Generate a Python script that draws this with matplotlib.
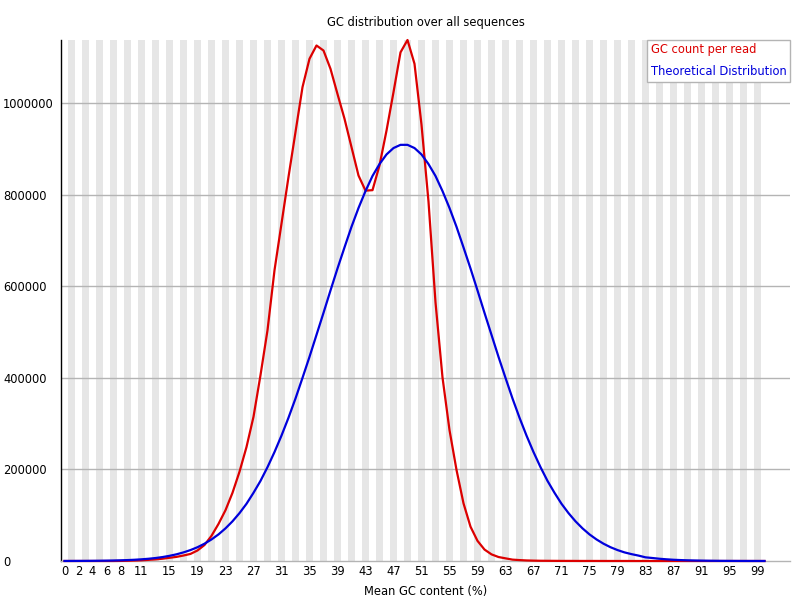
import matplotlib
matplotlib.use('Agg')
import matplotlib.pyplot as plt

# ── Data ──────────────────────────────────────────────────────────────────────
gc_percent = list(range(101))

gc_count = [
    0, 0, 0, 0, 0, 0, 0, 0, 200, 500,
    1000, 1500, 2500, 3500, 5000, 7000, 9000, 12000, 15500, 23000,
    35000, 55000, 81000, 111000, 149000, 195000, 249000, 315000, 406000, 504000,
    635000, 737000, 839000, 937000, 1035000, 1097000, 1126000, 1115000, 1075000, 1020000,
    966000, 904000, 842000, 809000, 810000, 864000, 940000, 1024000, 1111000, 1138000,
    1086000, 953000, 785000, 565000, 401000, 286000, 199000, 126000, 75000, 44000,
    25000, 14500, 8700, 5800, 3000, 2000, 1200, 800, 500, 400,
    300, 200, 200, 150, 100, 100, 100, 50, 50, 50,
    50, 0, 0, 0, 0, 0, 0, 0, 0, 0,
    0, 0, 0, 0, 0, 0, 0, 0, 0, 0,
    0,
]

theoretical = [
    90, 130, 190, 270, 390, 550, 770, 1070, 1480, 2000,
    2700, 3700, 4900, 6500, 8600, 11300, 14600, 18800, 23900, 30100,
    37800, 47100, 58100, 71300, 86700, 104600, 125000, 149000, 175000, 205000,
    238000, 274000, 313000, 355000, 400000, 446000, 494000, 542000, 591000, 639000,
    685000, 730000, 771000, 808000, 841000, 867000, 888000, 902000, 909000, 909000,
    902000, 888000, 867000, 841000, 808000, 771000, 730000, 685000, 639000, 591000,
    542000, 494000, 446000, 400000, 355000, 313000, 274000, 238000, 205000, 175000,
    149000, 125000, 104600, 86700, 71300, 58100, 47100, 37800, 30100, 23900,
    18800, 15000, 11800, 8000, 6500, 4900, 3700, 2700, 2000, 1500,
    1100, 800, 550, 400, 270, 190, 130, 90, 60, 40,
    30,
]

x_tick_labels = [0, 2, 4, 6, 8, 11, 15, 19, 23, 27, 31, 35, 39, 43, 47,
                 51, 55, 59, 63, 67, 71, 75, 79, 83, 87, 91, 95, 99]
y_ticks = [0, 200000, 400000, 600000, 800000, 1000000]

RED = '#dc0000'
BLUE = '#0000dc'
FS = 8.3

# ── Figure ────────────────────────────────────────────────────────────────────
fig = plt.figure(figsize=(8, 6), dpi=100)
ax = fig.add_axes([61 / 800, 39 / 600, 729 / 800, 521 / 600])

# alternating category bands (7 px per category, odd ones shaded)
for i in gc_percent:
    if i % 2 == 1:
        ax.axvspan(i - 0.5, i + 0.5, color='#e6e6e6', lw=0, zorder=0,
                   antialiased=False)

for y in y_ticks[1:]:
    ax.axhline(y, color='#b4b4b4', lw=1, zorder=1)

ax.plot(gc_percent, gc_count, color=RED, lw=1.6, label='GC count per read',
        zorder=3, clip_on=False)
ax.plot(gc_percent, theoretical, color=BLUE, lw=1.6,
        label='Theoretical Distribution', zorder=3, clip_on=False)

ax.set_xlim(-0.5, -0.5 + 729 / 7)
ax.set_ylim(0, max(gc_count))

ax.set_xticks(x_tick_labels)
ax.set_xticklabels([str(v) for v in x_tick_labels], fontsize=FS)
ax.set_yticks(y_ticks)
ax.set_yticklabels([str(v) for v in y_ticks], fontsize=FS)
ax.tick_params(axis='x', length=0, pad=3)
ax.tick_params(axis='y', length=0, pad=41.8)
for lab in ax.get_yticklabels():
    lab.set_horizontalalignment('left')

for side in ('top', 'right'):
    ax.spines[side].set_visible(False)
ax.spines['left'].set_color('black')
ax.spines['left'].set_linewidth(1)
ax.spines['bottom'].set_color('#b4b4b4')
ax.spines['bottom'].set_linewidth(1)

ax.set_xlabel('Mean GC content (%)', fontsize=FS, labelpad=5)
ax.set_title('GC distribution over all sequences', fontsize=FS, pad=10)

leg = ax.legend(loc='upper right', bbox_to_anchor=(1, 1), borderaxespad=0,
                handlelength=0, handletextpad=0, labelcolor='linecolor',
                fontsize=FS, fancybox=False, framealpha=1, edgecolor='#b4b4b4',
                borderpad=0.3, labelspacing=0.75)
for h in leg.legend_handles:
    h.set_visible(False)
leg.get_frame().set_linewidth(1)

fig.savefig('out.png', dpi=100)
